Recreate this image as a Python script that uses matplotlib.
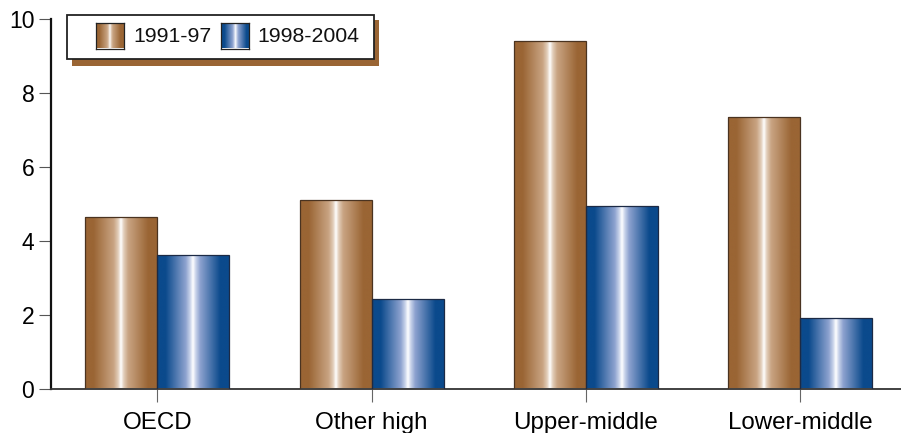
import numpy as np
import matplotlib
matplotlib.use("Agg")
import matplotlib.pyplot as plt
from matplotlib.colors import LinearSegmentedColormap
from matplotlib.patches import Rectangle

categories = ["OECD", "Other high", "Upper-middle", "Lower-middle"]
series_names = ["1991-97", "1998-2004"]
values_1991_97 = [4.65, 5.11, 9.41, 7.35]
values_1998_2004 = [3.62, 2.41, 4.95, 1.92]
y_ticks = [0, 2, 4, 6, 8, 10]

plt.rcParams['font.family'] = ['Liberation Sans', 'DejaVu Sans']

def make_cmap(edge, mid1, mid2, light):
    stops = [(0.0, edge), (0.12, edge), (0.40, mid1), (0.46, mid2), (0.5, light),
             (0.54, mid2), (0.60, mid1), (0.88, edge), (1.0, edge)]
    return LinearSegmentedColormap.from_list("g", stops, N=512)

brown_cmap = make_cmap("#9a6534", "#c9a483", "#e2cdb9", "#ffffff")
blue_cmap = make_cmap("#0b4a8c", "#8da2cf", "#c8d3ea", "#ffffff")
edge_cols = ["#4a3320", "#1c2a45"]
grad = np.linspace(0, 1, 512).reshape(1, -1)

fig = plt.figure(figsize=(9.01, 4.33), dpi=100)
ax = fig.add_axes([51/901, 44.5/433, 850/901, 369.5/433])

x = np.arange(len(categories))
w = 0.336
series = [values_1991_97, values_1998_2004]
cmaps = [brown_cmap, blue_cmap]
for i, (vals, cm) in enumerate(zip(series, cmaps)):
    offs = (i - 0.5) * w
    bars = ax.bar(x + offs, vals, width=w, facecolor="none",
                  edgecolor=edge_cols[i], linewidth=0.9, zorder=3)
    for b in bars:
        x0, y0 = b.get_x(), b.get_y()
        im = ax.imshow(grad, cmap=cm, aspect="auto",
                       extent=[x0, x0 + b.get_width(), y0, y0 + b.get_height()],
                       zorder=2, interpolation="bilinear")
        im.set_clip_path(b)

ax.set_xlim(-0.497, 3.471)
ax.set_ylim(0, 10)
ax.set_yticks(y_ticks)
ax.set_xticks(x)
ax.set_xticklabels(categories)
for s in ["top", "right"]:
    ax.spines[s].set_visible(False)
ax.spines["left"].set_linewidth(1.6)
ax.spines["left"].set_color("#111111")
ax.spines["bottom"].set_linewidth(1.3)
ax.spines["bottom"].set_color("#333333")
ax.tick_params(axis="y", length=9, width=0.8, color="#555555", pad=3,
               labelsize=16.5)
ax.tick_params(axis="x", length=9, width=0.8, color="#666666", pad=8,
               labelsize=17.4)

# legend (manual, figure pixel coords)
def px(xp, yp):
    return xp / 901, 1 - yp / 433

# shadow
sx, sy = px(72, 66)
fig.patches.append(Rectangle((sx, sy), (379 - 72) / 901, (66 - 20) / 433,
                             transform=fig.transFigure, facecolor="#9a6534",
                             edgecolor="none", zorder=5))
bx, by = px(67, 59)
fig.patches.append(Rectangle((bx, by), (374 - 67) / 901, (59 - 15) / 433,
                             transform=fig.transFigure, facecolor="white",
                             edgecolor="#222222", linewidth=1.3, zorder=6))
patch_x = [96, 221]
text_x = [133, 257]
for i, name in enumerate(series_names):
    lx, ly = px(patch_x[i], 48.5)
    lw_, lh_ = 28 / 901, 25.5 / 433
    ax_l = fig.add_axes([lx, ly, lw_, lh_], zorder=7)
    ax_l.imshow(grad, cmap=cmaps[i], aspect="auto", interpolation="bilinear")
    ax_l.set_xticks([]); ax_l.set_yticks([])
    for sp in ax_l.spines.values():
        sp.set_color("#222222"); sp.set_linewidth(0.9)
    tx, ty = px(text_x[i], 36)
    fig.text(tx, ty, name, fontsize=15.3, va="center", ha="left",
             color="#111111", zorder=8)

fig.savefig("out.png", dpi=100)
